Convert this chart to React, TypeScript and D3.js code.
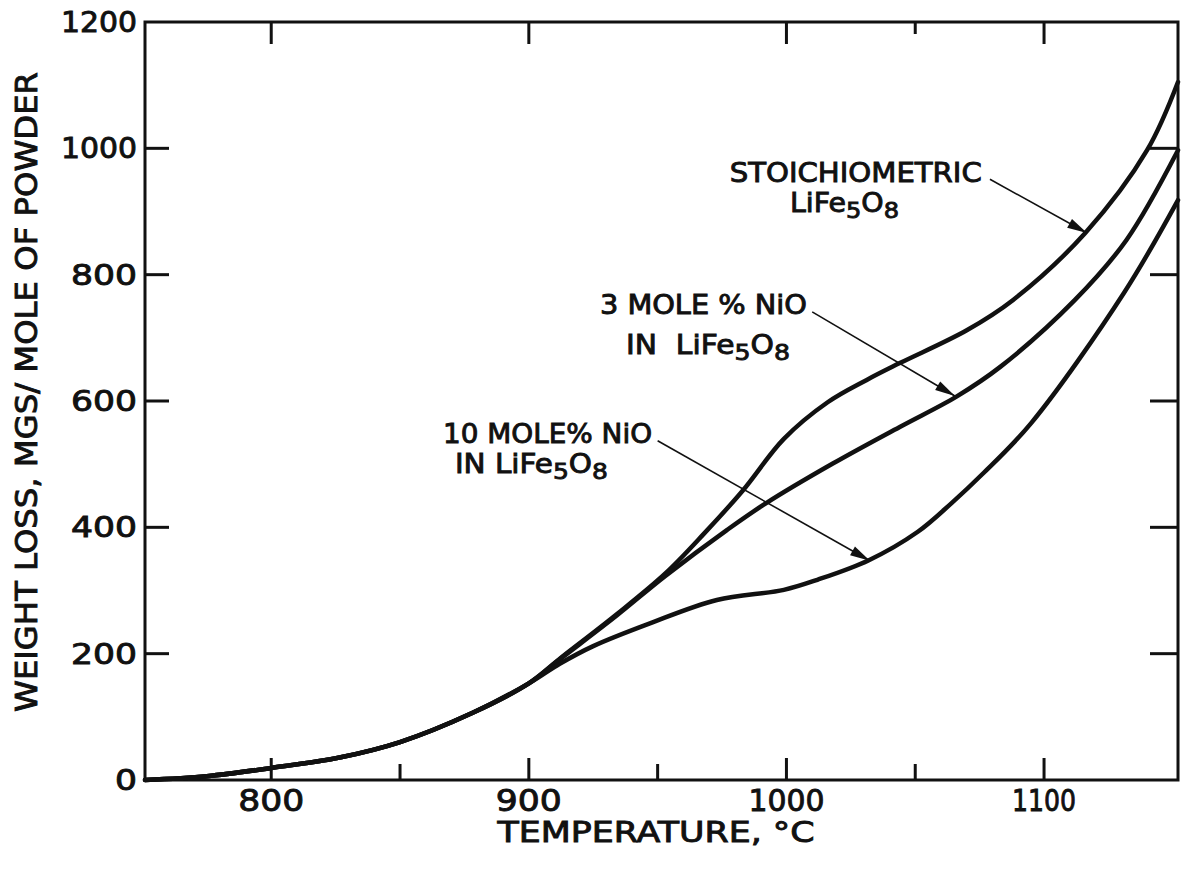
import React from 'react';
import * as d3 from 'd3';

// ---- data (temperature °C, weight loss mg / mole) ----
const tempCommon = [751, 775, 800, 827, 850, 878, 900];
const lossCommon = [0, 6, 19, 36, 60, 106, 153];

const tempStoich = [912, 934, 953, 968, 983, 999, 1016, 1031, 1044, 1070, 1088, 1116, 1140, 1152];
const lossStoich = [192, 262, 327, 390, 458, 540, 598, 633, 660, 712, 760, 866, 997, 1105];

const temp3 = [912, 934, 953, 977, 992, 1018, 1044, 1066, 1083, 1112, 1132, 1152];
const loss3 = [191, 260, 323, 396, 438, 501, 559, 607, 654, 760, 855, 997];

const temp10 = [912, 925, 947, 973, 999, 1012, 1032, 1051, 1064, 1076, 1095, 1131, 1152];
const loss10 = [184, 212, 248, 285, 301, 317, 348, 393, 438, 484, 565, 771, 918];

const xMajorTicks = [800, 900, 1000, 1100];
const xMinorTicksBottom = [850, 950, 1050];
const xMinorTicksTop = [1050];
const yTicks = [0, 200, 400, 600, 800, 1000, 1200];
const yTicksRight = [200, 400, 600, 800, 1000];

const xTitle = 'TEMPERATURE, °C';
const yTitle = 'WEIGHT LOSS, MGS/ MOLE OF POWDER';

// annotations in data coordinates
const annotations = [
  { line1: 'STOICHIOMETRIC', l1: [978, 947], w1: 252, line2: ['', 'LiFe', '5', 'O', '8'], l2: [1001.4, 899], w2: 109, tail: [1079, 951], tip: [1116.7, 866] },
  { line1: '3 MOLE % NiO', l1: [927.6, 738], w1: 207, line2: ['IN  ', 'LiFe', '5', 'O', '8'], l2: [937.7, 674], w2: 164, tail: [1010, 741], tip: [1065.4, 608] },
  { line1: '10 MOLE% NiO', l1: [866.7, 533], w1: 209, line2: ['IN ', 'LiFe', '5', 'O', '8'], l2: [871.3, 486], w2: 153, tail: [950, 537], tip: [1032.4, 347] },
];

const W = 1190, H = 875;
const left = 145, right = 1178, top = 22, bottom = 780;
const FONT = '"DejaVu Sans", "Liberation Sans", sans-serif';
const INK = '#111';

function labelWidth(s: string) {
  let w = 0;
  for (const c of s) w += c === '1' ? 10 : 22;
  return w;
}

export default function App() {
  const x = d3.scaleLinear().domain([751, 1152]).range([left, right]);
  const y = d3.scaleLinear().domain([0, 1200]).range([bottom, top]);

  const mk = (ts: number[], ls: number[]) =>
    tempCommon.map((t, i) => [t, lossCommon[i]] as [number, number]).concat(ts.map((t, i) => [t, ls[i]] as [number, number]));

  const line = d3
    .line<[number, number]>()
    .x((d) => x(d[0]))
    .y((d) => y(d[1]))
    .curve(d3.curveCatmullRom.alpha(0.5));

  const series = [mk(tempStoich, lossStoich), mk(temp3, loss3), mk(temp10, loss10)];

  const arrowHead = (tail: number[], tip: number[]) => {
    const x0 = x(tail[0]), y0 = y(tail[1]), x1 = x(tip[0]), y1 = y(tip[1]);
    const dx = x1 - x0, dy = y1 - y0;
    const len = Math.hypot(dx, dy);
    const ux = dx / len, uy = dy / len;
    const L = 20, hw = 5;
    const bx = x1 - ux * L, by = y1 - uy * L;
    return `${x1},${y1} ${bx - uy * hw},${by + ux * hw} ${bx + uy * hw},${by - ux * hw}`;
  };

  const textStyle = { fill: INK, stroke: INK, strokeWidth: 0.9 };

  return (
    <svg width={W} height={H} style={{ position: 'absolute', left: 0, top: 0, background: '#fff' }} fontFamily={FONT}>
      <rect x={0} y={0} width={W} height={H} fill="#fff" />
      {/* frame */}
      <rect x={left} y={top} width={right - left} height={bottom - top} fill="none" stroke={INK} strokeWidth={3} />
      {/* ticks */}
      {xMajorTicks.map((t) => (
        <g key={'xb' + t}>
          <line x1={x(t)} x2={x(t)} y1={bottom} y2={bottom - 22} stroke={INK} strokeWidth={3} />
          <line x1={x(t)} x2={x(t)} y1={top} y2={top + 22} stroke={INK} strokeWidth={3} />
          <text x={x(t)} y={811} textAnchor="middle" fontSize={30} textLength={labelWidth(String(t))} lengthAdjust="spacingAndGlyphs" {...textStyle}>
            {t}
          </text>
        </g>
      ))}
      {xMinorTicksBottom.map((t) => (
        <line key={'xm' + t} x1={x(t)} x2={x(t)} y1={bottom} y2={bottom - 16} stroke={INK} strokeWidth={3} />
      ))}
      {xMinorTicksTop.map((t) => (
        <line key={'xt' + t} x1={x(t)} x2={x(t)} y1={top} y2={top + 12} stroke={INK} strokeWidth={3} />
      ))}
      {yTicks.map((v) => (
        <g key={'y' + v}>
          {v > 0 && v < 1200 && <line x1={left} x2={left + 24} y1={y(v)} y2={y(v)} stroke={INK} strokeWidth={3} />}
          <text x={137} y={y(v) + 10} textAnchor="end" fontSize={28} textLength={labelWidth(String(v))} lengthAdjust="spacingAndGlyphs" {...textStyle}>
            {v}
          </text>
        </g>
      ))}
      {yTicksRight.map((v) => (
        <line key={'yr' + v} x1={right} x2={right - 28} y1={y(v)} y2={y(v)} stroke={INK} strokeWidth={3} />
      ))}
      {/* axis titles */}
      <text x={656} y={842} textAnchor="middle" fontSize={28} textLength={317} lengthAdjust="spacingAndGlyphs" {...textStyle}>
        {xTitle}
      </text>
      <text transform="translate(37,392) rotate(-90)" textAnchor="middle" fontSize={30} textLength={640} lengthAdjust="spacingAndGlyphs" {...textStyle}>
        {yTitle}
      </text>
      {/* curves */}
      {series.map((s, i) => (
        <path key={'s' + i} d={line(s) || ''} fill="none" stroke={INK} strokeWidth={4.5} strokeLinecap="round" strokeLinejoin="round" />
      ))}
      {/* annotations */}
      {annotations.map((a, i) => (
        <g key={'a' + i}>
          <text x={x(a.l1[0])} y={y(a.l1[1])} fontSize={26} textLength={a.w1} lengthAdjust="spacingAndGlyphs" {...textStyle}>
            {a.line1}
          </text>
          <text x={x(a.l2[0])} y={y(a.l2[1])} fontSize={26} textLength={a.w2} lengthAdjust="spacingAndGlyphs" xmlSpace="preserve" {...textStyle}>
            <tspan>{a.line2[0] + a.line2[1]}</tspan>
            <tspan dy={6} fontSize={22}>{a.line2[2]}</tspan>
            <tspan dy={-6}>{a.line2[3]}</tspan>
            <tspan dy={6} fontSize={22}>{a.line2[4]}</tspan>
          </text>
          <line x1={x(a.tail[0])} y1={y(a.tail[1])} x2={x(a.tip[0])} y2={y(a.tip[1])} stroke={INK} strokeWidth={1.6} />
          <polygon points={arrowHead(a.tail, a.tip)} fill={INK} />
        </g>
      ))}
    </svg>
  );
}
